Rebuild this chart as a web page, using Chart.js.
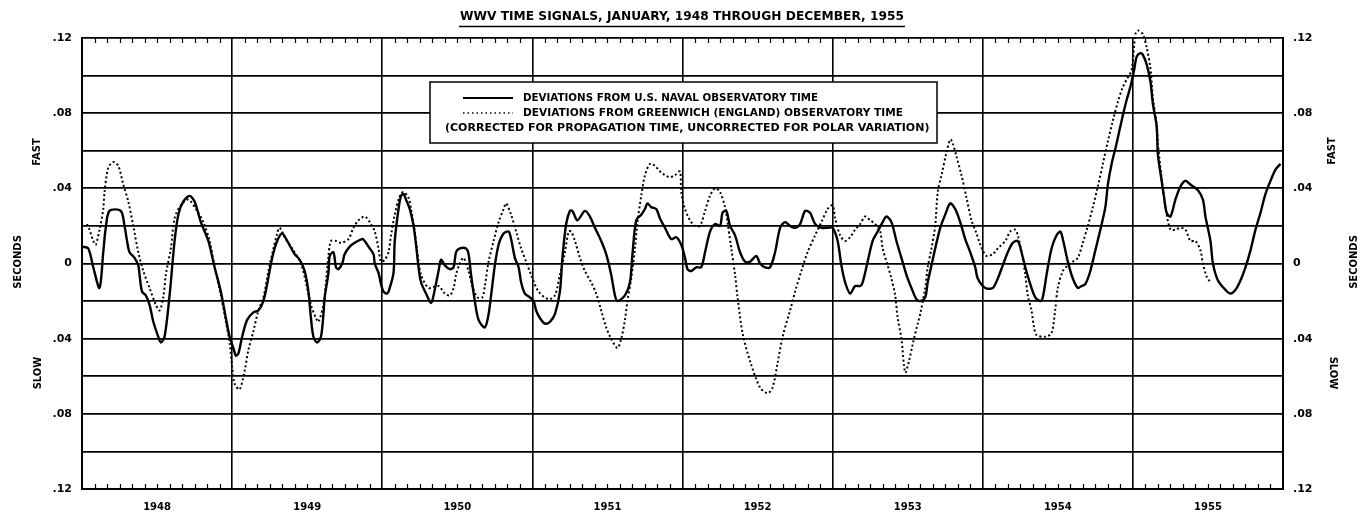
<!DOCTYPE html>
<html>
<head>
<meta charset="utf-8">
<title>WWV Time Signals 1948-1955</title>
<script src="https://cdn.jsdelivr.net/npm/chart.js@4.4.1/dist/chart.umd.min.js"></script>
<style>
    body { margin: 0; background: #fff; }
    canvas { display: block; }
</style>
</head>
<body>
<canvas id="wwvChart" width="1364" height="517"></canvas>
<script>
const yearLabels = ["1948", "1949", "1950", "1951", "1952", "1953", "1954", "1955"];

// [months since Jan 1948, seconds]  (+ = fast, - = slow)
const usnoPoints = [
    [0.0, 0.009], [0.5, 0.008], [0.9, -0.002], [1.4, -0.013], [1.7, 0.006], [1.9, 0.019], [2.2, 0.028], [3.1, 0.028],
    [3.4, 0.020], [3.6, 0.012], [3.8, 0.006], [4.2, 0.003], [4.5, -0.001], [4.6, -0.006], [4.8, -0.015], [5.1, -0.017],
    [5.4, -0.022], [5.7, -0.031], [6.1, -0.039], [6.3, -0.042], [6.6, -0.039], [7.0, -0.017], [7.4, 0.012], [7.7, 0.026],
    [8.1, 0.033], [8.6, 0.036], [9.0, 0.033], [9.5, 0.022], [10.1, 0.012], [10.6, -0.002], [11.1, -0.015], [11.5, -0.029],
    [11.8, -0.039], [12.1, -0.045], [12.3, -0.049], [12.5, -0.048], [12.8, -0.039], [13.2, -0.030], [13.7, -0.026], [14.1, -0.025],
    [14.5, -0.020], [14.8, -0.011], [15.2, 0.003], [15.6, 0.012], [16.0, 0.016], [16.4, 0.012], [17.0, 0.005], [17.4, 0.002],
    [17.8, -0.004], [18.1, -0.015], [18.3, -0.029], [18.5, -0.039], [18.8, -0.042], [19.1, -0.039], [19.3, -0.027], [19.4, -0.018],
    [19.7, -0.005], [19.8, 0.004], [20.1, 0.006], [20.3, -0.002], [20.5, -0.003], [20.8, 0.000], [21.0, 0.005], [21.4, 0.009],
    [21.8, 0.011], [22.4, 0.013], [22.6, 0.012], [22.9, 0.009], [23.3, 0.005], [23.4, 0.000], [23.7, -0.005], [23.9, -0.011],
    [24.1, -0.015], [24.4, -0.016], [24.6, -0.013], [24.9, -0.005], [25.0, 0.012], [25.3, 0.029], [25.5, 0.036], [25.7, 0.037],
    [25.9, 0.034], [26.2, 0.029], [26.5, 0.020], [26.7, 0.010], [26.9, -0.002], [27.1, -0.010], [27.5, -0.016], [27.9, -0.021],
    [28.1, -0.017], [28.5, -0.004], [28.7, 0.002], [29.0, -0.001], [29.4, -0.003], [29.7, -0.002], [29.9, 0.006], [30.2, 0.008],
    [30.7, 0.008], [30.9, 0.005], [31.1, -0.006], [31.4, -0.020], [31.7, -0.030], [32.2, -0.034], [32.5, -0.027], [32.7, -0.017],
    [33.0, -0.001], [33.3, 0.010], [33.7, 0.016], [34.1, 0.017], [34.3, 0.013], [34.6, 0.003], [34.9, -0.002], [35.1, -0.010],
    [35.4, -0.016], [35.8, -0.018], [36.1, -0.020], [36.3, -0.025], [36.6, -0.029], [37.0, -0.032], [37.4, -0.031], [37.8, -0.027],
    [38.2, -0.015], [38.4, 0.003], [38.7, 0.021], [39.0, 0.028], [39.2, 0.028], [39.6, 0.023], [40.2, 0.028], [40.6, 0.025],
    [41.0, 0.019], [41.5, 0.012], [41.9, 0.005], [42.3, -0.006], [42.6, -0.017], [42.8, -0.020], [43.4, -0.017], [43.8, -0.010],
    [44.0, 0.005], [44.3, 0.023], [44.7, 0.026], [45.0, 0.029], [45.2, 0.032], [45.5, 0.030], [45.9, 0.029], [46.2, 0.024],
    [46.6, 0.019], [47.1, 0.013], [47.5, 0.014], [47.9, 0.010], [48.2, 0.003], [48.4, -0.003], [48.7, -0.004], [49.1, -0.002],
    [49.5, -0.002], [49.8, 0.006], [50.2, 0.017], [50.6, 0.021], [51.0, 0.020], [51.2, 0.027], [51.5, 0.028], [51.8, 0.020],
    [52.2, 0.015], [52.6, 0.006], [53.0, 0.001], [53.4, 0.001], [53.9, 0.004], [54.2, 0.000], [54.6, -0.002], [55.0, -0.002],
    [55.4, 0.006], [55.8, 0.019], [56.2, 0.022], [56.6, 0.020], [57.0, 0.019], [57.4, 0.021], [57.8, 0.028], [58.2, 0.027],
    [58.6, 0.021], [59.1, 0.019], [59.6, 0.019], [60.0, 0.019], [60.4, 0.012], [60.7, -0.001], [61.0, -0.010], [61.4, -0.016],
    [61.8, -0.012], [62.2, -0.012], [62.4, -0.010], [62.8, 0.001], [63.2, 0.012], [63.6, 0.017], [64.0, 0.022], [64.3, 0.025],
    [64.7, 0.022], [65.1, 0.012], [65.5, 0.003], [65.9, -0.006], [66.3, -0.013], [66.7, -0.019], [67.0, -0.020], [67.4, -0.018],
    [67.6, -0.010], [67.9, -0.001], [68.2, 0.008], [68.6, 0.019], [69.0, 0.026], [69.4, 0.032], [69.8, 0.029], [70.2, 0.022],
    [70.6, 0.013], [71.0, 0.006], [71.4, -0.002], [71.6, -0.008], [72.2, -0.013], [72.8, -0.013], [73.2, -0.008], [73.6, -0.001],
    [74.0, 0.006], [74.4, 0.011], [74.8, 0.012], [75.1, 0.006], [75.4, -0.002], [75.8, -0.011], [76.2, -0.018], [76.6, -0.020],
    [76.8, -0.018], [77.1, -0.006], [77.5, 0.008], [77.9, 0.015], [78.2, 0.017], [78.4, 0.013], [78.8, 0.001], [79.2, -0.008],
    [79.6, -0.013], [79.9, -0.012], [80.2, -0.011], [80.6, -0.004], [81.0, 0.007], [81.4, 0.018], [81.8, 0.030], [82.0, 0.042],
    [82.3, 0.053], [82.7, 0.064], [83.1, 0.076], [83.5, 0.087], [83.8, 0.094], [84.1, 0.103], [84.3, 0.110], [84.6, 0.112],
    [84.8, 0.111], [85.1, 0.106], [85.4, 0.097], [85.6, 0.085], [85.9, 0.073], [86.0, 0.058], [86.3, 0.044], [86.5, 0.035],
    [86.7, 0.027], [87.0, 0.025], [87.4, 0.034], [87.8, 0.041], [88.2, 0.044], [88.6, 0.042], [89.2, 0.039], [89.6, 0.034],
    [89.8, 0.025], [90.2, 0.012], [90.4, 0.000], [90.8, -0.009], [91.4, -0.014], [91.8, -0.016], [92.2, -0.014], [92.6, -0.009],
    [93.0, -0.002], [93.4, 0.007], [93.8, 0.018], [94.2, 0.027], [94.6, 0.037], [95.0, 0.044], [95.4, 0.050], [95.8, 0.053]
];

const greenwichPoints = [
    [0.4, 0.021], [0.6, 0.018], [0.9, 0.012], [1.1, 0.010], [1.4, 0.018], [1.7, 0.029], [1.8, 0.038], [2.1, 0.051],
    [2.5, 0.054], [2.9, 0.052], [3.3, 0.042], [3.7, 0.033], [4.1, 0.020], [4.5, 0.006], [4.9, -0.004], [5.4, -0.013],
    [5.9, -0.022], [6.2, -0.025], [6.5, -0.018], [6.7, -0.006], [7.1, 0.008], [7.4, 0.024], [7.9, 0.031], [8.5, 0.034],
    [9.1, 0.029], [9.7, 0.022], [10.2, 0.012], [10.6, -0.002], [11.1, -0.017], [11.5, -0.031], [11.8, -0.042], [12.0, -0.055],
    [12.2, -0.064], [12.6, -0.067], [13.0, -0.057], [13.3, -0.046], [13.7, -0.036], [14.1, -0.025], [14.5, -0.018], [14.9, -0.004],
    [15.2, 0.005], [15.6, 0.016], [15.8, 0.019], [16.2, 0.014], [17.0, 0.006], [17.5, 0.000], [17.9, -0.010], [18.3, -0.022],
    [18.7, -0.029], [18.9, -0.031], [19.3, -0.022], [19.5, -0.010], [19.7, 0.004], [19.9, 0.012], [20.3, 0.012], [20.7, 0.011],
    [21.3, 0.013], [21.7, 0.019], [22.1, 0.023], [22.6, 0.025], [23.0, 0.022], [23.4, 0.017], [23.7, 0.008], [23.9, 0.001],
    [24.2, 0.002], [24.5, 0.006], [24.7, 0.015], [25.0, 0.026], [25.4, 0.036], [25.7, 0.038], [26.1, 0.035], [26.3, 0.029],
    [26.6, 0.017], [26.9, 0.001], [27.1, -0.006], [27.7, -0.013], [28.5, -0.012], [29.0, -0.016], [29.4, -0.017], [29.7, -0.013],
    [29.9, -0.006], [30.2, 0.000], [30.5, 0.003], [30.9, -0.004], [31.2, -0.012], [31.6, -0.018], [32.0, -0.018], [32.2, -0.012],
    [32.5, 0.001], [32.9, 0.012], [33.3, 0.022], [33.7, 0.029], [33.9, 0.032], [34.3, 0.026], [34.7, 0.017], [35.1, 0.008],
    [35.5, 0.001], [35.9, -0.006], [36.5, -0.015], [37.3, -0.019], [37.8, -0.017], [38.2, -0.006], [38.6, 0.006], [38.9, 0.017],
    [39.1, 0.017], [39.4, 0.012], [39.8, 0.003], [40.2, -0.004], [40.7, -0.010], [41.1, -0.016], [41.5, -0.025], [41.9, -0.034],
    [42.3, -0.040], [42.8, -0.045], [43.1, -0.040], [43.4, -0.030], [43.6, -0.020], [43.9, -0.008], [44.2, 0.008], [44.4, 0.022],
    [44.7, 0.036], [45.0, 0.047], [45.4, 0.053], [45.8, 0.052], [46.2, 0.049], [46.6, 0.047], [47.0, 0.046], [47.4, 0.047],
    [47.8, 0.049], [47.9, 0.038], [48.2, 0.029], [48.6, 0.023], [49.0, 0.020], [49.4, 0.020], [49.8, 0.028], [50.2, 0.036],
    [50.6, 0.040], [51.0, 0.038], [51.4, 0.030], [51.6, 0.022], [51.9, 0.008], [52.2, -0.006], [52.4, -0.018], [52.8, -0.037],
    [53.4, -0.052], [54.2, -0.066], [54.8, -0.069], [55.2, -0.066], [55.6, -0.053], [56.0, -0.039], [56.6, -0.025], [57.0, -0.015],
    [57.5, -0.004], [58.0, 0.006], [58.6, 0.015], [59.1, 0.022], [59.6, 0.029], [60.0, 0.031], [60.2, 0.024], [60.6, 0.015],
    [61.0, 0.012], [61.4, 0.014], [61.8, 0.018], [62.2, 0.021], [62.6, 0.025], [63.0, 0.023], [63.4, 0.021], [63.8, 0.017],
    [64.0, 0.008], [64.4, -0.001], [64.7, -0.008], [65.0, -0.017], [65.2, -0.029], [65.5, -0.040], [65.8, -0.058], [66.1, -0.052],
    [66.4, -0.043], [66.8, -0.032], [67.0, -0.027], [67.4, -0.013], [67.6, -0.002], [67.9, 0.008], [68.2, 0.020], [68.4, 0.038],
    [68.7, 0.047], [69.1, 0.059], [69.4, 0.066], [69.6, 0.064], [69.9, 0.057], [70.3, 0.047], [70.7, 0.035], [71.1, 0.023],
    [71.5, 0.016], [71.8, 0.010], [72.3, 0.004], [72.8, 0.005], [73.2, 0.008], [73.8, 0.012], [74.2, 0.017], [74.6, 0.018],
    [74.8, 0.015], [75.1, 0.006], [75.4, -0.006], [75.6, -0.017], [75.9, -0.025], [76.1, -0.034], [76.3, -0.038], [77.0, -0.039],
    [77.5, -0.037], [77.8, -0.024], [78.0, -0.013], [78.4, -0.004], [78.8, -0.001], [79.2, 0.001], [79.6, 0.003], [80.0, 0.011],
    [80.4, 0.020], [80.8, 0.030], [81.2, 0.041], [81.6, 0.053], [82.0, 0.065], [82.4, 0.076], [82.8, 0.086], [83.2, 0.094],
    [83.6, 0.099], [83.9, 0.103], [84.2, 0.122], [84.4, 0.124], [84.8, 0.122], [85.1, 0.115], [85.4, 0.104], [85.6, 0.088],
    [85.9, 0.074], [86.0, 0.064], [86.3, 0.045], [86.6, 0.030], [87.0, 0.018], [87.4, 0.018], [87.8, 0.019], [88.2, 0.018],
    [88.6, 0.012], [89.0, 0.012], [89.4, 0.007], [89.6, 0.000], [89.9, -0.007], [90.2, -0.010]
];

const titleText = "WWV TIME SIGNALS, JANUARY, 1948 THROUGH DECEMBER, 1955";
const legendLines = [
    "DEVIATIONS FROM U.S. NAVAL OBSERVATORY TIME",
    "DEVIATIONS FROM GREENWICH (ENGLAND) OBSERVATORY TIME",
    "(CORRECTED FOR PROPAGATION TIME, UNCORRECTED FOR POLAR VARIATION)"
];

function toXY(points) {
    return points.map(p => ({ x: p[0], y: p[1] }));
}

function secondsLabel(value) {
    const hundredths = Math.round(Math.abs(value) * 100);
    if (hundredths % 4 !== 0) return "";
    if (hundredths === 0) return "0";
    return "." + String(hundredths).padStart(2, "0");
}

function drawVertical(ctx, text, x, y, angle) {
    ctx.save();
    ctx.translate(x, y);
    ctx.rotate(angle);
    ctx.fillText(text, 0, 0);
    ctx.restore();
}

// title, month ticks, legend box and side words
const decorations = {
    id: "decorations",
    afterDraw(chart) {
        const ctx = chart.ctx;
        const area = chart.chartArea;
        const xScale = chart.scales.x;
        ctx.save();
        ctx.fillStyle = "#000";
        ctx.strokeStyle = "#000";
        ctx.textBaseline = "middle";

        ctx.font = 'bold 13px "DejaVu Sans"';
        ctx.textAlign = "center";
        ctx.fillText(titleText, 682, 17, 444);
        ctx.lineWidth = 1.5;
        ctx.beginPath();
        ctx.moveTo(459, 26.5);
        ctx.lineTo(905, 26.5);
        ctx.stroke();

        ctx.lineWidth = 1.2;
        ctx.beginPath();
        for (let m = 1; m < 96; m++) {
            if (m % 12 === 0) continue;
            const px = Math.round(xScale.getPixelForValue(m)) + 0.5;
            ctx.moveTo(px, area.top);
            ctx.lineTo(px, area.top + 5);
            ctx.moveTo(px, area.bottom);
            ctx.lineTo(px, area.bottom - 5);
        }
        ctx.stroke();

        // legend box
        ctx.fillStyle = "#fff";
        ctx.fillRect(430, 82, 507, 61);
        ctx.lineWidth = 1.5;
        ctx.strokeRect(430, 82, 507, 61);
        ctx.fillStyle = "#000";
        ctx.lineWidth = 2;
        ctx.beginPath();
        ctx.moveTo(463, 98);
        ctx.lineTo(513, 98);
        ctx.stroke();
        ctx.lineWidth = 1.5;
        ctx.setLineDash([1.5, 3]);
        ctx.beginPath();
        ctx.moveTo(463, 113);
        ctx.lineTo(513, 113);
        ctx.stroke();
        ctx.setLineDash([]);
        ctx.font = 'bold 11px "DejaVu Sans"';
        ctx.textAlign = "left";
        ctx.fillText(legendLines[0], 523, 98, 295);
        ctx.fillText(legendLines[1], 523, 113, 380);
        ctx.fillText(legendLines[2], 445, 128, 487);

        ctx.font = 'bold 10px "DejaVu Sans"';
        ctx.textAlign = "center";
        drawVertical(ctx, "FAST", 37, 152, -Math.PI / 2);
        drawVertical(ctx, "SECONDS", 18, 262, -Math.PI / 2);
        drawVertical(ctx, "SLOW", 38, 373, -Math.PI / 2);
        drawVertical(ctx, "FAST", 1332, 151, -Math.PI / 2);
        drawVertical(ctx, "SECONDS", 1354, 262, -Math.PI / 2);
        drawVertical(ctx, "SLOW", 1333, 373, Math.PI / 2);
        ctx.restore();
    }
};

const tickFont = { family: "DejaVu Sans", size: 11, weight: "bold" };

new Chart(document.getElementById("wwvChart"), {
    type: "line",
    data: {
        datasets: [
            {
                label: "Deviations from U.S. Naval Observatory time",
                data: toXY(usnoPoints),
                borderColor: "#000",
                borderWidth: 2.4,
                pointRadius: 0,
                tension: 0.3,
                yAxisID: "y"
            },
            {
                label: "Deviations from Greenwich (England) Observatory time",
                data: toXY(greenwichPoints),
                borderColor: "#000",
                borderWidth: 2,
                borderDash: [2, 2.5],
                pointRadius: 0,
                tension: 0.3,
                clip: false,
                yAxisID: "y"
            }
        ]
    },
    options: {
        responsive: false,
        animation: false,
        layout: { padding: { top: 38, left: 0, right: 0, bottom: 0 } },
        plugins: {
            legend: { display: false },
            tooltip: { enabled: false }
        },
        scales: {
            x: {
                type: "linear",
                min: 0,
                max: 96,
                afterBuildTicks(scale) {
                    scale.ticks = Array.from({ length: 17 }, (_, i) => ({ value: i * 6 }));
                },
                afterFit(scale) { scale.height = 28; },
                grid: {
                    drawTicks: false,
                    lineWidth: 1.6,
                    color: c => (c.tick && c.tick.value % 12 === 0) ? "#000" : "rgba(0,0,0,0)"
                },
                border: { color: "#000", width: 2 },
                ticks: {
                    autoSkip: false,
                    maxRotation: 0,
                    padding: 12,
                    color: "#000",
                    font: { family: "DejaVu Sans", size: 10, weight: "bold" },
                    callback: v => (v % 12 === 6) ? yearLabels[(v - 6) / 12] : ""
                }
            },
            y: {
                position: "left",
                min: -0.12,
                max: 0.12,
                afterFit(scale) { scale.width = 82; },
                grid: { drawTicks: false, color: "#000", lineWidth: 1.8 },
                border: { color: "#000", width: 2 },
                ticks: { stepSize: 0.02, padding: 10, color: "#000", font: tickFont, callback: secondsLabel }
            },
            y2: {
                position: "right",
                min: -0.12,
                max: 0.12,
                afterFit(scale) { scale.width = 81; },
                grid: { display: false, drawTicks: false },
                border: { color: "#000", width: 2 },
                ticks: { stepSize: 0.02, padding: 10, color: "#000", font: tickFont, callback: secondsLabel }
            }
        }
    },
    plugins: [decorations]
});
</script>
</body>
</html>
